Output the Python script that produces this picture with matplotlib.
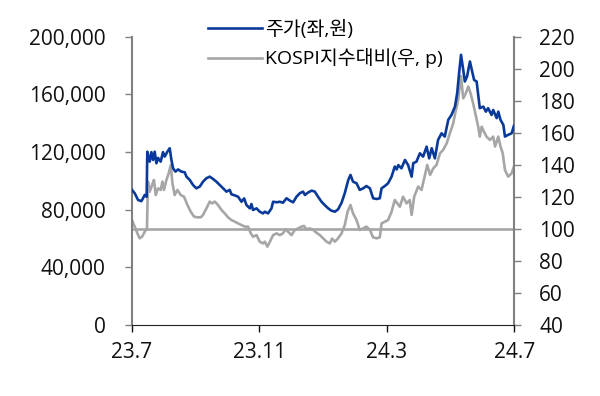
import matplotlib
matplotlib.use("Agg")
import matplotlib.pyplot as plt
from matplotlib.ticker import FuncFormatter

plt.rcParams['font.family'] = ['Open Sans', 'Noto Sans CJK KR', 'DejaVu Sans']

# months since 2023-07
price_t = [0.00, 0.085, 0.19, 0.295, 0.40, 0.46, 0.48, 0.556, 0.61, 0.66, 0.713, 0.766, 0.817, 0.90,
           0.974, 1.027, 1.11, 1.184, 1.237, 1.29, 1.363, 1.446, 1.55, 1.656, 1.71, 1.813, 1.917, 2.02,
           2.127, 2.23, 2.337, 2.44, 2.545, 2.65, 2.755, 2.86, 2.966, 3.07, 3.12, 3.227, 3.33, 3.437,
           3.52, 3.594, 3.70, 3.75, 3.80, 3.91, 4.01, 4.115, 4.17, 4.27, 4.38, 4.43, 4.54, 4.64, 4.74,
           4.85, 4.955, 5.06, 5.165, 5.27, 5.37, 5.43, 5.53, 5.64, 5.74, 5.84, 5.95, 6.05, 6.16, 6.26,
           6.37, 6.47, 6.58, 6.68, 6.79, 6.86, 6.94, 7.05, 7.15, 7.26, 7.36, 7.47, 7.57, 7.68, 7.78,
           7.835, 7.94, 8.04, 8.15, 8.25, 8.31, 8.36, 8.46, 8.57, 8.67, 8.78, 8.83, 8.93, 9.04, 9.14,
           9.25, 9.33, 9.41, 9.51, 9.61, 9.72, 9.82, 9.93, 10.03, 10.14, 10.21, 10.27, 10.33, 10.40,
           10.45, 10.52, 10.61, 10.68, 10.74, 10.82, 10.87, 10.92, 11.03, 11.11, 11.18, 11.29, 11.34,
           11.45, 11.50, 11.57, 11.66, 11.71, 11.81, 11.92, 11.99]
price = [93800, 91500, 86800, 86000, 90300, 89000, 120300, 113400, 120000, 114600, 120300, 112300,
         116000, 113400, 120000, 116900, 120300, 122700, 114600, 108800, 106500, 108000, 106500, 106000,
         103000, 100700, 97200, 94900, 96100, 99500, 101900, 103000, 101400, 99500, 97200, 94900, 92600,
         93800, 90800, 90000, 89100, 85600, 87900, 83300, 81000, 84000, 79900, 81000, 78700, 77500,
         78700, 77500, 81000, 85600, 85200, 85600, 84900, 88000, 86400, 85200, 89100, 91500, 92600,
         90300, 92000, 93300, 92600, 89100, 85600, 83300, 81000, 79400, 78700, 80300, 84900, 91500,
         100700, 104200, 99500, 98400, 93800, 94900, 96500, 94900, 88000, 87500, 88000, 94900, 96500,
         98400, 103000, 110000, 108000, 111000, 108800, 114600, 111000, 103000, 112300, 113400, 119200,
         116900, 123800, 115700, 122700, 115700, 128500, 133100, 130800, 142400, 145800, 151600, 160900,
         174800, 187500, 177100, 169000, 172500, 182900, 175900, 170100, 169000, 159700, 150500, 151600,
         148100, 150500, 145800, 149300, 143600, 148100, 142400, 138900, 130800, 132000, 133100, 138200]

kospi_t = [0.00, 0.063, 0.17, 0.24, 0.315, 0.40, 0.47, 0.50, 0.556, 0.63, 0.69, 0.745, 0.817, 0.90,
           0.955, 1.005, 1.08, 1.153, 1.216, 1.27, 1.34, 1.426, 1.53, 1.634, 1.74, 1.844, 1.95, 2.054,
           2.16, 2.23, 2.337, 2.44, 2.514, 2.60, 2.70, 2.81, 2.91, 3.016, 3.12, 3.227, 3.33, 3.437, 3.54,
           3.644, 3.73, 3.80, 3.91, 4.01, 4.115, 4.17, 4.25, 4.33, 4.43, 4.54, 4.64, 4.74, 4.82, 4.90,
           5.01, 5.11, 5.22, 5.32, 5.40, 5.48, 5.58, 5.69, 5.79, 5.90, 6.00, 6.11, 6.21, 6.28, 6.37,
           6.47, 6.58, 6.68, 6.77, 6.86, 6.94, 7.05, 7.15, 7.26, 7.36, 7.47, 7.57, 7.68, 7.78, 7.835,
           7.94, 8.04, 8.15, 8.25, 8.33, 8.41, 8.51, 8.62, 8.72, 8.78, 8.86, 8.985, 9.09, 9.20, 9.27,
           9.36, 9.46, 9.56, 9.67, 9.77, 9.88, 9.98, 10.085, 10.17, 10.24, 10.33, 10.40, 10.48, 10.56,
           10.63, 10.71, 10.80, 10.87, 10.92, 10.98, 11.05, 11.13, 11.24, 11.34, 11.40, 11.50, 11.57,
           11.64, 11.71, 11.81, 11.92, 11.99]
kospi_rel = [105.6, 102.5, 97.3, 94.2, 95.2, 98.3, 100.4, 129.6, 123.3, 127.5, 130.6, 121.2, 125.4,
             124.4, 129.6, 124.4, 130.6, 134.8, 140.0, 128.5, 121.2, 124.4, 121.2, 120.2, 115.0, 110.8,
             107.7, 107.3, 107.3, 108.8, 112.9, 117.1, 116.0, 117.1, 115.0, 111.9, 109.8, 107.3, 105.6,
             104.6, 103.5, 102.5, 101.5, 101.5, 97.3, 95.2, 96.2, 92.1, 91.0, 92.1, 89.0, 92.1, 96.2,
             97.3, 96.2, 97.3, 99.8, 98.3, 96.2, 99.4, 100.4, 101.5, 101.9, 99.8, 100.4, 99.4, 97.7,
             96.2, 94.2, 92.1, 91.0, 94.0, 92.1, 94.2, 97.3, 102.5, 110.8, 115.0, 109.8, 105.6, 99.4,
             100.4, 101.5, 99.4, 94.8, 94.2, 94.8, 103.5, 104.6, 105.6, 110.8, 118.1, 116.0, 113.9,
             120.2, 116.0, 118.1, 108.8, 120.2, 126.5, 124.4, 133.8, 140.0, 133.8, 137.9, 140.0, 147.3,
             149.4, 153.5, 159.8, 166.0, 174.4, 180.6, 195.5, 181.6, 184.7, 189.0, 184.7, 178.5, 170.2,
             163.9, 157.7, 163.9, 160.8, 157.7, 155.6, 157.7, 151.5, 157.7, 151.5, 147.3, 136.9, 132.7,
             134.8, 138.9]

xticks = [0, 4, 8, 12]
xlabels = ['23.7', '23.11', '24.3', '24.7']
base_level = 100

blue = '#0A3A99'
grey = '#A6A6A6'
spine_grey = '#808080'

fig = plt.figure(figsize=(6, 3.96), dpi=100)
ax = fig.add_axes([0.22, 0.179, 0.637, 0.728])
ax2 = ax.twinx()

l1, = ax.plot(price_t, price, color=blue, lw=1.9, label='주가(좌,원)', zorder=3)
l2, = ax2.plot(kospi_t, kospi_rel, color=grey, lw=1.9, label='KOSPI지수대비(우, p)')
ax2.axhline(base_level, color=grey, lw=1.9)
ax.set_zorder(ax2.get_zorder() + 1)
ax.patch.set_visible(False)

ax.set_xlim(0, 12)
ax.set_ylim(0, 200000)
ax.set_yticks(range(0, 200001, 40000))
ax.yaxis.set_major_formatter(FuncFormatter(lambda v, p: f'{int(v):,}'))
ax2.set_ylim(40, 220)
ax2.set_yticks(range(40, 221, 20))
ax.set_xticks(xticks)
ax.set_xticklabels(xlabels)

for a in (ax, ax2):
    a.spines['top'].set_visible(False)
    a.tick_params(labelsize=15, colors='#111111', length=5, width=1)
ax.spines['left'].set_color(spine_grey)
ax.spines['right'].set_visible(False)
ax2.spines['left'].set_visible(False)
ax2.spines['bottom'].set_visible(False)
ax2.spines['right'].set_color(spine_grey)
ax.spines['left'].set_linewidth(1.5)
ax2.spines['right'].set_linewidth(1.5)
ax.spines['bottom'].set_color('#222222')
ax.tick_params(axis='y', color=spine_grey, pad=14)
ax2.tick_params(axis='y', color=spine_grey, pad=13)
ax.tick_params(axis='x', pad=7)

fig.legend(handles=[l1, l2], loc='upper left', bbox_to_anchor=(0.333, 0.97),
           frameon=False, fontsize=14, handlelength=2.8, handletextpad=0.15,
           labelspacing=0.5, borderaxespad=0)

fig.savefig('out.png', dpi=100)
